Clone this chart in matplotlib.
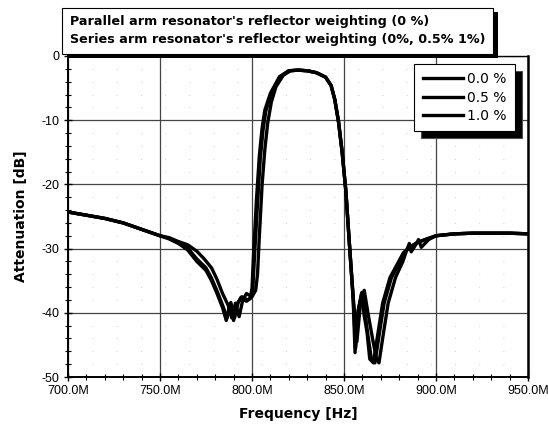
import matplotlib
matplotlib.use("Agg")
import matplotlib.pyplot as plt
from matplotlib.patches import Rectangle
from matplotlib.ticker import MultipleLocator, FuncFormatter

# ---------------- data (frequency in MHz, attenuation in dB) ----------------
freq_00 = [700, 710, 720, 730, 740, 750, 755, 760, 765, 770, 775, 778, 781, 784,
           786, 788, 790, 792, 794, 797, 799, 800, 801, 802.5, 804, 805.5, 807,
           810, 815, 820, 825, 830, 835, 840, 843, 845, 847, 849, 851, 853, 855,
           856, 857.5, 859.5, 861, 862.5, 864, 866, 868, 871, 875, 879, 882, 886,
           890, 895, 900, 910, 920, 930, 940, 950]
att_00 = [-24.3, -24.8, -25.3, -26.0, -27.0, -28.0, -28.5, -29.2, -30.2, -32.0,
          -33.4, -35.0, -37.0, -39.2, -41.2, -38.6, -41.2, -38.6, -37.6, -38.2,
          -37.8, -36.2, -30.0, -22.0, -15.5, -11.2, -8.4, -5.8, -3.2, -2.3, -2.2,
          -2.3, -2.6, -3.3, -4.6, -6.8, -10.2, -15.0, -21.0, -29.5, -38.0, -46.2,
          -40.0, -37.0, -40.5, -43.0, -47.2, -47.8, -44.0, -38.5, -34.5, -32.4,
          -30.8, -29.8, -29.0, -28.5, -28.0, -27.7, -27.6, -27.6, -27.6, -27.7]

freq_05 = [700, 710, 720, 730, 740, 750, 755, 760, 765, 770, 775, 778, 781, 784,
           786.5, 788.5, 790.5, 792.5, 794.5, 797.5, 799.5, 800.5, 801.5, 803, 804.5,
           806, 807.5, 810, 815, 820, 825, 830, 835, 840, 843, 845, 847, 849, 851,
           853, 855, 856.3, 857.8, 859.8, 861.5, 863, 864.8, 866.8, 868.8, 871.8,
           875.8, 879.8, 882.5, 886.5, 890.5, 895, 900, 910, 920, 930, 940, 950]
att_05 = [-24.3, -24.8, -25.3, -26.0, -27.0, -28.0, -28.4, -29.1, -29.9, -31.6,
          -33.0, -34.6, -36.6, -38.8, -40.8, -38.4, -40.8, -38.4, -37.5, -38.0,
          -37.6, -36.0, -30.5, -23.0, -16.0, -11.5, -8.6, -6.2, -3.3, -2.3, -2.2,
          -2.3, -2.6, -3.3, -4.6, -6.8, -10.2, -15.0, -21.0, -29.5, -37.8, -45.5,
          -39.5, -36.8, -40.2, -43.5, -47.0, -47.8, -44.0, -38.5, -34.5, -32.4,
          -30.6, -29.6, -29.0, -28.5, -28.0, -27.7, -27.6, -27.6, -27.6, -27.7]

freq_10 = [700, 710, 720, 730, 740, 750, 755, 760, 765, 770, 774, 778, 781, 784,
           787, 789, 791, 793, 795, 797, 800, 802, 803, 804, 805.5, 807, 808.5,
           810.5, 813, 817, 821, 825, 830, 835, 840, 843, 845, 847, 849, 851, 853,
           855, 857, 858.8, 861, 863, 865.5, 867.5, 869, 871, 874, 878, 882,
           884, 885.5, 886.5, 889, 890.5, 892, 896, 900, 910, 920, 930, 940, 950]
att_10 = [-24.3, -24.8, -25.3, -26.0, -27.0, -28.0, -28.3, -28.9, -29.4, -30.4,
          -31.6, -33.0, -34.8, -37.0, -38.8, -40.8, -38.5, -40.6, -38.0, -37.0,
          -37.5, -36.5, -34.0, -28.0, -20.0, -14.5, -10.5, -7.2, -4.8, -3.0, -2.3,
          -2.2, -2.3, -2.6, -3.3, -4.6, -6.8, -10.2, -15.0, -21.0, -29.5, -37.5,
          -44.5, -39.0, -36.5, -40.0, -44.0, -47.0, -47.8, -44.0, -38.5, -34.5,
          -32.0, -30.3, -29.2, -30.5, -29.4, -28.6, -29.8, -28.6, -28.0, -27.7,
          -27.6, -27.6, -27.6, -27.7]

series_labels = ["0.0 %", "0.5 %", "1.0 %"]
x_ticks = [700, 750, 800, 850, 900, 950]
y_ticks = [0, -10, -20, -30, -40, -50]
title_lines = ["Parallel arm resonator's reflector weighting (0 %)",
               "Series arm resonator's reflector weighting (0%, 0.5% 1%)"]

# ---------------- figure ----------------
W, H = 548, 426
fig = plt.figure(figsize=(W / 100, H / 100), dpi=100)
L, R, T, B = 68, 528, 56, 377
ax = fig.add_axes([L / W, 1 - B / H, (R - L) / W, (B - T) / H])

for f, a, lab in zip([freq_00, freq_05, freq_10], [att_00, att_05, att_10], series_labels):
    ax.plot(f, a, color="black", lw=2.4, label=lab, solid_joinstyle="round", zorder=3)

ax.set_xlim(700, 950)
ax.set_ylim(-50, 0)
ax.set_xticks(x_ticks)
ax.set_yticks(y_ticks)
ax.xaxis.set_minor_locator(MultipleLocator(10))
ax.yaxis.set_minor_locator(MultipleLocator(2))
ax.xaxis.set_major_formatter(FuncFormatter(lambda v, p: f"{v:.1f}M"))
ax.yaxis.set_major_formatter(FuncFormatter(lambda v, p: f"{int(round(v))}"))

ax.grid(True, which="major", color="#444444", lw=0.9)
ax.grid(True, which="minor", axis="y", color="#bbbbbb", lw=0.6, ls=(0, (1, 28)))

ax.tick_params(which="major", direction="inout", length=6, width=1, labelsize=9,
               pad=3)
ax.tick_params(which="minor", direction="inout", length=4, width=0.8)
for lab in ax.get_xticklabels() + ax.get_yticklabels():
    lab.set_fontfamily("Liberation Sans")

for side in ["left", "bottom"]:
    ax.spines[side].set_linewidth(1.4)
ax.spines["right"].set_linewidth(1.8)
ax.spines["top"].set_linewidth(1.0)

ax.set_xlabel("Frequency [Hz]", fontsize=10, fontweight="bold", family="DejaVu Sans",
              labelpad=7)
ax.set_ylabel("Attenuation [dB]", fontsize=10, fontweight="bold", family="DejaVu Sans",
              labelpad=10)

leg = ax.legend(loc="upper right",
                bbox_to_anchor=((515 - L) / (R - L), 1 - (64 - T) / (B - T)),
                borderaxespad=0, frameon=True, fancybox=False,
                shadow={"ox": 5, "oy": -5, "facecolor": "black", "alpha": 1.0},
                edgecolor="black", handlelength=2.9, fontsize=10, labelspacing=0.3,
                handletextpad=0.3, borderpad=0.6, framealpha=1.0)
leg.get_frame().set_linewidth(0.8)

# title box with shadow
bx0, bx1, by0, by1 = 62, 493, 8, 54
shadow = Rectangle(((bx0 + 5) / W, 1 - (by1 + 4) / H), (bx1 - bx0) / W, (by1 - by0) / H,
                   transform=fig.transFigure, facecolor="black", edgecolor="none", zorder=5)
box = Rectangle((bx0 / W, 1 - by1 / H), (bx1 - bx0) / W, (by1 - by0) / H,
                transform=fig.transFigure, facecolor="white", edgecolor="black", lw=0.8,
                zorder=6)
fig.add_artist(shadow)
fig.add_artist(box)
fig.text(70 / W, 1 - 22 / H, title_lines[0], fontsize=9.2, fontweight="bold",
         va="center", ha="left", zorder=7)
fig.text(70 / W, 1 - 39 / H, title_lines[1], fontsize=9.2, fontweight="bold",
         va="center", ha="left", zorder=7)

fig.savefig("out.png", dpi=100)
